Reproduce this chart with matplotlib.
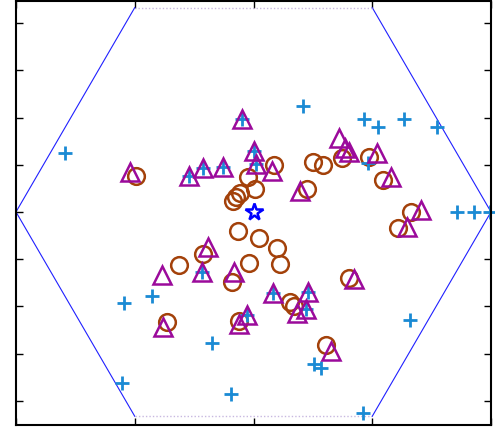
# scatter of three groups inside a unit hexagon
import numpy as np
import matplotlib.pyplot as plt

# group 1: plus markers
plus_x = [-0.794, 0.208, 0.465, 0.524, 0.634, 0.773, 0.482, 0.857, 0.928, 0.996,
          -0.545, -0.427, -0.175, -0.554, -0.095, 0.461, 0.659, 0.255, 0.284,
          -0.048, 0.002, 0.011, -0.272, -0.213, -0.128, -0.217, -0.027, 0.082,
          0.229, 0.221]
plus_y = [0.248, 0.451, 0.392, 0.358, 0.392, 0.362, 0.206, 0.0, 0.0, 0.0,
          -0.387, -0.358, -0.556, -0.724, -0.771, -0.851, -0.459, -0.644, -0.661,
          0.396, 0.257, 0.202, 0.152, 0.185, 0.189, -0.253, -0.438, -0.345,
          -0.341, -0.413]

# group 2: triangles
tri_x = [-0.048, 0.002, 0.011, -0.272, -0.213, -0.128, -0.520, 0.078, 0.360,
         0.385, 0.402, 0.520, 0.579, 0.196, 0.705, 0.646, -0.192, -0.385,
         -0.217, -0.082, 0.423, 0.082, 0.229, 0.221, 0.183, -0.027, -0.061,
         -0.381, 0.326]
tri_y = [0.396, 0.257, 0.202, 0.152, 0.185, 0.189, 0.168, 0.173, 0.312,
         0.269, 0.253, 0.248, 0.147, 0.088, 0.008, -0.063, -0.147, -0.269,
         -0.253, -0.253, -0.286, -0.345, -0.341, -0.413, -0.429, -0.438, -0.476,
         -0.488, -0.589]

# group 3: circles
circ_x = [-0.495, -0.023, 0.006, -0.057, -0.074, -0.086, 0.086, 0.251, 0.293,
          0.373, 0.486, 0.545, 0.225, 0.663, 0.608, -0.065, 0.023, 0.099,
          0.112, -0.019, -0.213, -0.314, -0.091, 0.402, 0.154, 0.171, -0.364,
          -0.061, 0.305]
circ_y = [0.152, 0.147, 0.097, 0.080, 0.063, 0.046, 0.198, 0.211, 0.198,
          0.227, 0.232, 0.135, 0.097, 0.0, -0.067, -0.080, -0.109, -0.152,
          -0.219, -0.215, -0.177, -0.223, -0.295, -0.278, -0.383, -0.400, -0.467,
          -0.463, -0.564]

center = (0.0, 0.0)

fig = plt.figure(figsize=(4.95, 4.3), dpi=100)
ax = fig.add_axes([16 / 495, 5 / 430, 475 / 495, 424 / 430])

# hexagon outline: sides solid blue, top/bottom dotted
ang = np.radians(np.arange(0, 420, 60))
hx = np.cos(ang)
hy = np.sin(ang)
for i in range(6):
    seg_x = hx[i:i + 2]
    seg_y = hy[i:i + 2]
    if i in (1, 4):
        ax.plot(seg_x, seg_y, color="#c8b8e0", lw=1.0, ls=(0, (1, 1.5)))
    else:
        ax.plot(seg_x, seg_y, color="#2020ff", lw=0.8)

ax.plot(circ_x, circ_y, "o", ms=12, mfc="none", mec="#a3410a", mew=1.8)
ax.plot(plus_x, plus_y, "+", ms=10.5, mec="#1a8ad4", mew=2.0, clip_on=False)
ax.plot(tri_x, tri_y, "^", ms=13, mfc="none", mec="#9b0a9b", mew=1.8)
ax.plot(center[0], center[1], "*", ms=13, mfc="white", mec="#0000ff", mew=1.8)

ax.set_xlim(-1.0, 1.0)
ax.set_ylim(-0.903, 0.894)
ax.set_xticks([-1, -0.5, 0, 0.5, 1])
ax.set_yticks([-0.8, -0.6, -0.4, -0.2, 0, 0.2, 0.4, 0.6, 0.8])
ax.tick_params(direction="in", top=True, right=True, length=5, width=1,
               labelbottom=False, labelleft=False)
for sp in ax.spines.values():
    sp.set_linewidth(1.5)

plt.savefig("out.png")
